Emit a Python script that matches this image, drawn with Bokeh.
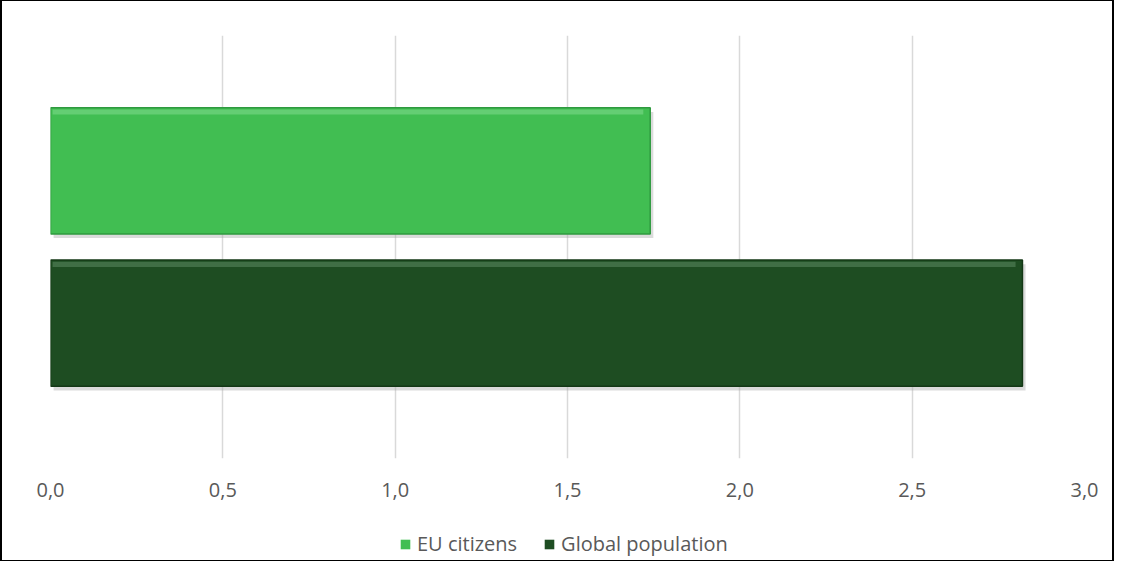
from bokeh.plotting import figure
from bokeh.models import Range1d, FactorRange, Legend, LegendItem, FixedTicker
from bokeh.layouts import column
from bokeh.transform import dodge
from bokeh.embed import file_html
from bokeh.resources import INLINE

# ---- data ----
series = ["EU citizens", "Global population"]
values = [1.74, 2.82]
category = ["Average"]
tick_values = [0.0, 0.5, 1.0, 1.5, 2.0, 2.5, 3.0]
tick_labels = ["0,0", "0,5", "1,0", "1,5", "2,0", "2,5", "3,0"]

colors = ["#41BE52", "#1E4D22"]
edge_colors = ["#2F9A3F", "#143816"]
top_colors = ["#74D482", "#4F7C54"]

FONT = "Open Sans"
W = 1110
p = figure(width=W, height=517, output_backend="svg", toolbar_location=None,
           x_range=Range1d(0, 3.0), y_range=FactorRange(*category, range_padding=0),
           min_border_left=48, min_border_right=28, min_border_top=34, min_border_bottom=60)
p.outline_line_color = None
p.background_fill_color = "white"
p.border_fill_color = "white"

p.yaxis.visible = False
p.ygrid.grid_line_color = None
p.xgrid.grid_line_color = "#D9D9D9"
p.xgrid.grid_line_width = 1.5
p.xaxis.ticker = FixedTicker(ticks=tick_values)
p.xaxis.major_label_overrides = {t: l for t, l in zip(tick_values, tick_labels)}
p.xaxis.axis_line_color = None
p.xaxis.major_tick_line_color = None
p.xaxis.minor_tick_line_color = None
p.xaxis.major_label_text_font = FONT
p.xaxis.major_label_text_font_size = "20px"
p.xaxis.major_label_text_color = "#595959"
p.xaxis.major_label_standoff = 18

offsets = [0.18, -0.18]
bar_h = 0.298
for name, v, c, ec, tc, off in zip(series, values, colors, edge_colors, top_colors, offsets):
    # drop shadow
    p.hbar(y=dodge("cat", off - 0.010, range=p.y_range), left=0.009, right=v + 0.009,
           height=bar_h, fill_color="#A6A6A6", fill_alpha=0.4, line_color=None,
           source=dict(cat=category))
    p.hbar(y=dodge("cat", off, range=p.y_range), left=0, right=v, height=bar_h,
           fill_color=c, line_color=ec, line_width=1.5, source=dict(cat=category))
    # bevel highlight along top edge
    p.hbar(y=dodge("cat", off + bar_h / 2 - 0.010, range=p.y_range), left=0.006, right=v - 0.02,
           height=0.012, fill_color=tc, fill_alpha=0.7, line_color=None,
           source=dict(cat=category))

# ---- legend in a strip below the chart ----
lg = figure(width=W, height=42, output_backend="svg", toolbar_location=None,
            x_axis_type=None, y_axis_type=None,
            x_range=Range1d(0, 3.0), y_range=FactorRange(*category, range_padding=0),
            min_border_left=0, min_border_right=0, min_border_top=0, min_border_bottom=0)
lg.outline_line_color = None
lg.xgrid.visible = False
lg.ygrid.visible = False
leg_renderers = []
for name, v, c, ec in zip(series, values, colors, edge_colors):
    # swatch renderers for the legend (zero height, so nothing shows in the strip)
    r = lg.hbar(y="cat", left=0, right=v, height=0, fill_color=c, line_color=None,
                source=dict(cat=category))
    leg_renderers.append(r)

legend = Legend(items=[LegendItem(label=s, renderers=[r]) for s, r in zip(series, leg_renderers)],
                orientation="horizontal", location=(349, 3),
                label_text_font=FONT, label_text_font_size="20px",
                label_text_color="#595959", glyph_width=12, glyph_height=12,
                border_line_color=None, background_fill_alpha=0,
                spacing=26, padding=4, margin=0, label_standoff=6)
lg.add_layout(legend)

layout = column(p, lg, spacing=0,
                styles={"border-top": "1px solid #000", "border-bottom": "1px solid #000",
                        "border-left": "2px solid #000", "border-right": "2px solid #000"})

open("out.html", "w").write(file_html(layout, INLINE))
